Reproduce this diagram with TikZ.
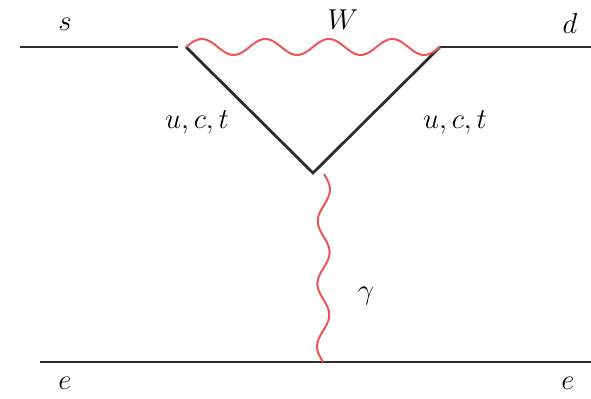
\documentclass[tikz,border=0pt]{standalone}
\definecolor{wred}{RGB}{236,86,86}
\definecolor{fline}{RGB}{45,45,45}
\begin{document}
\begin{tikzpicture}[x=0.5pt,y=-0.5pt,
  fermion/.style={draw=fline,line width=1.4pt},
  boson/.style={draw=wred,line width=1pt,line join=round},
  lbl/.style={inner sep=0pt,font=\fontsize{15}{18}\selectfont}]
\useasboundingbox (0,0) rectangle (591,399);
% vertices
\coordinate (sL) at (20,47);
\coordinate (A) at (186,47);
\coordinate (B) at (440,47);
\coordinate (dR) at (591,47);
\coordinate (C) at (313,173);
\coordinate (Cp) at (324,174);
\coordinate (V) at (323,362);
\coordinate (eL) at (40,362);
\coordinate (eR) at (591,362);
% fermion lines
\draw[fermion,shorten >=4pt] (sL) -- (A);
\draw[fermion] (A) -- (C) -- (B);
\draw[fermion] (B) -- (dR);
\draw[fermion] (eL) -- (eR);
% W boson from A to B (4 periods)
\begin{scope}[shift={(A)}]
  \draw[boson] plot[domain=0:254,samples=240,smooth] (\x,{-8*sin(5.6693*\x)});
\end{scope}
% photon from Cp to V (3 periods)
\begin{scope}[shift={(Cp)}]
  \draw[boson] plot[domain=0:188,samples=180,smooth] ({6*sin(5.7444*\x)-\x/188},\x);
\end{scope}
% labels
\node[lbl] (ls) at (65,24) {$s$};
\node[lbl] (ld) at (570,24) {$d$};
\node[lbl] (lW) at (343,20) {$W$};
\node[lbl] (lu1) at (197,122) {$u,c,t$};
\node[lbl] (lu2) at (455,122) {$u,c,t$};
\node[lbl] (lg) at (366,296) {$\gamma$};
\node[lbl] (le1) at (65,383) {$e$};
\node[lbl] (le2) at (568,383) {$e$};
\end{tikzpicture}
\end{document}
